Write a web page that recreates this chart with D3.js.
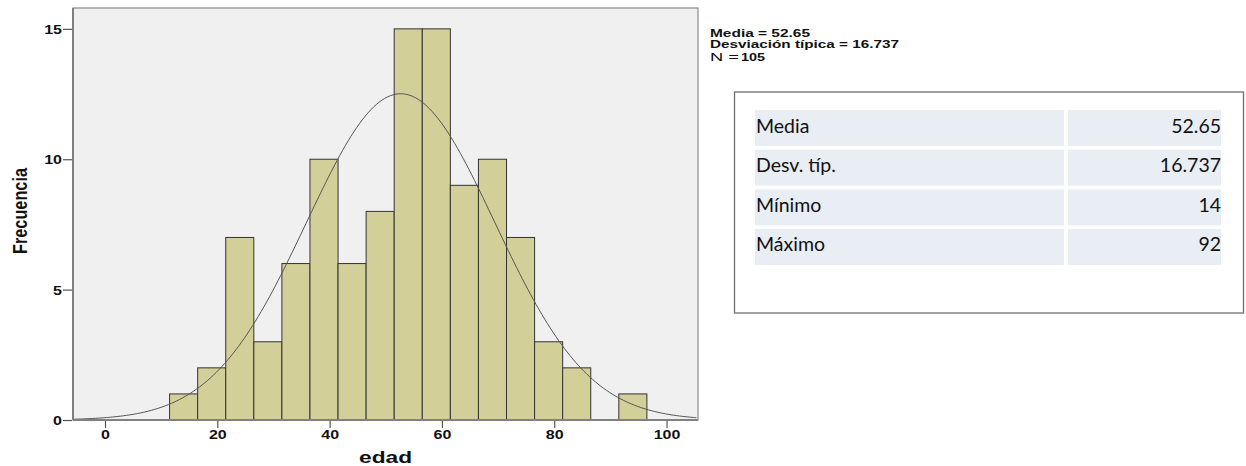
<!DOCTYPE html>
<html>
<head>
<meta charset="utf-8">
<script src="https://d3js.org/d3.v7.min.js"></script>
<style>
    body { margin: 0; background: #ffffff; }
    svg { display: block; }
</style>
</head>
<body>
<div id="chart"></div>
<script>
// histogram data (edad), bins of width 5 centered on these values
const binCenters = [14, 19, 24, 29, 34, 39, 44, 49, 54, 59, 64, 69, 74, 79, 84, 89, 94];
const counts = [1, 2, 7, 3, 6, 10, 6, 8, 15, 15, 9, 10, 7, 3, 2, 0, 1];
const binWidth = 5;

const xTicks = [0, 20, 40, 60, 80, 100];
const yTicks = [0, 5, 10, 15];

// summary values shown in the legend and in the table
const media = 52.65;
const desvTip = 16.737;
const nTotal = 105;
const statLabels = ["Media", "Desv. típ.", "Mínimo", "Máximo"];
const statValues = ["52.65", "16.737", "14", "92"];

const svg = d3.select("#chart")
    .append("svg")
    .attr("width", 1246)
    .attr("height", 466);

// plot area
const plot = {left: 73, right: 698, top: 8, bottom: 420};

const x = d3.scaleLinear().domain([-5.7, 105.6]).range([plot.left, plot.right]);
const y = d3.scaleLinear().domain([0, 15.8]).range([plot.bottom, plot.top]);

/**
 * stretch a text horizontally like the spss export does
 */
function stretch(sel, factor) {
    sel.each(function () {
        const w = this.getComputedTextLength();
        d3.select(this)
            .attr("textLength", w * factor)
            .attr("lengthAdjust", "spacingAndGlyphs");
    });
}

svg.append("rect")
    .attr("x", plot.left)
    .attr("y", plot.top)
    .attr("width", plot.right - plot.left)
    .attr("height", plot.bottom - plot.top)
    .attr("fill", "#f0f0f0")
    .attr("stroke", "#8a8a8a")
    .attr("stroke-width", 1.2);

// bars
svg.selectAll(".bar")
    .data(binCenters)
    .join("rect")
    .attr("class", "bar")
    .attr("x", function (d) { return x(d - binWidth / 2); })
    .attr("width", function (d) { return x(d + binWidth / 2) - x(d - binWidth / 2); })
    .attr("y", function (d, i) { return y(counts[i]); })
    .attr("height", function (d, i) { return y(0) - y(counts[i]); })
    .attr("fill", "#d3cf99")
    .attr("stroke", function (d, i) { return counts[i] > 0 ? "#333333" : "none"; })
    .attr("stroke-width", 1);

// fitted normal curve from mean and sd of the legend
const xs = d3.range(-5.7, 105.61, 0.5);
const curve = d3.line()
    .x(function (d) { return x(d); })
    .y(function (d) {
        const z = (d - media) / desvTip;
        return y(nTotal * binWidth * Math.exp(-0.5 * z * z) / (desvTip * Math.sqrt(2 * Math.PI)));
    })
    .curve(d3.curveBasis);

svg.append("path")
    .datum(xs)
    .attr("d", curve)
    .attr("fill", "none")
    .attr("stroke", "#555555")
    .attr("stroke-width", 1);

// axis lines
svg.append("line")
    .attr("x1", plot.left).attr("x2", plot.left)
    .attr("y1", plot.top).attr("y2", plot.bottom)
    .attr("stroke", "#808080").attr("stroke-width", 2);
svg.append("line")
    .attr("x1", plot.left).attr("x2", plot.right)
    .attr("y1", plot.bottom).attr("y2", plot.bottom)
    .attr("stroke", "#808080").attr("stroke-width", 2);

// axes
const yAxis = svg.append("g")
    .attr("transform", "translate(" + (plot.left - 1) + ",0)")
    .call(d3.axisLeft(y).tickValues(yTicks).tickSize(9).tickPadding(1).tickFormat(d3.format("d")));
const xAxis = svg.append("g")
    .attr("transform", "translate(0," + (plot.bottom + 1) + ")")
    .call(d3.axisBottom(x).tickValues(xTicks).tickSize(7).tickPadding(2).tickFormat(d3.format("d")));

[yAxis, xAxis].forEach(function (a) {
    a.select(".domain").remove();
    a.selectAll(".tick line").attr("stroke", "#555555").attr("stroke-width", 1.2);
    a.selectAll(".tick text")
        .attr("fill", "#111111")
        .attr("font-family", "Liberation Sans, Arial, sans-serif")
        .attr("font-weight", "bold")
        .attr("font-size", "12.5px")
        .call(stretch, 1.28);
});
yAxis.selectAll(".tick text").attr("dy", "0.36em");

// axis titles
svg.append("text")
    .attr("transform", "translate(27,211) rotate(-90)")
    .attr("text-anchor", "middle")
    .attr("font-family", "Liberation Sans, Arial, sans-serif")
    .attr("font-weight", "bold")
    .attr("font-size", "21px")
    .attr("textLength", 86)
    .attr("lengthAdjust", "spacingAndGlyphs")
    .attr("fill", "#111111")
    .text("Frecuencia");

svg.append("text")
    .attr("x", 385.5)
    .attr("y", 463)
    .attr("text-anchor", "middle")
    .attr("font-family", "Liberation Sans, Arial, sans-serif")
    .attr("font-weight", "bold")
    .attr("font-size", "16px")
    .attr("textLength", 53)
    .attr("lengthAdjust", "spacingAndGlyphs")
    .attr("fill", "#111111")
    .text("edad");

// legend next to the plot
const legendLines = [
    {text: "Media = " + media, y: 37.3, len: 100, weight: "bold"},
    {text: "Desviación típica = " + desvTip, y: 48, len: 189, weight: "bold"}
];
svg.selectAll(".legend")
    .data(legendLines)
    .join("text")
    .attr("class", "legend")
    .attr("x", 710)
    .attr("y", function (d) { return d.y; })
    .attr("font-family", "Liberation Sans, Arial, sans-serif")
    .attr("font-weight", function (d) { return d.weight; })
    .attr("font-size", "10.5px")
    .attr("textLength", function (d) { return d.len; })
    .attr("lengthAdjust", "spacingAndGlyphs")
    .attr("fill", "#111111")
    .text(function (d) { return d.text; });

svg.append("text")
    .attr("x", 710).attr("y", 60.5)
    .attr("font-family", "Liberation Sans, Arial, sans-serif")
    .attr("font-size", "10.5px")
    .attr("textLength", 29).attr("lengthAdjust", "spacingAndGlyphs")
    .attr("fill", "#111111")
    .text("N =");
svg.append("text")
    .attr("x", 741).attr("y", 60.5)
    .attr("font-family", "Liberation Sans, Arial, sans-serif")
    .attr("font-weight", "bold")
    .attr("font-size", "10.5px")
    .attr("textLength", 24).attr("lengthAdjust", "spacingAndGlyphs")
    .attr("fill", "#111111")
    .text(nTotal);

// statistics table
svg.append("rect")
    .attr("x", 734.5)
    .attr("y", 92)
    .attr("width", 509)
    .attr("height", 221)
    .attr("fill", "#ffffff")
    .attr("stroke", "#6e6e6e")
    .attr("stroke-width", 1.3);

const rows = d3.scaleBand()
    .domain(statLabels)
    .range([110, 265])
    .paddingInner(0.09);

const row = svg.selectAll(".row")
    .data(statLabels)
    .join("g")
    .attr("class", "row")
    .attr("transform", function (d) { return "translate(0," + rows(d) + ")"; });

row.append("rect")
    .attr("x", 755).attr("width", 309)
    .attr("height", rows.bandwidth())
    .attr("fill", "#e9edf4");
row.append("rect")
    .attr("x", 1068).attr("width", 153)
    .attr("height", rows.bandwidth())
    .attr("fill", "#e9edf4");

row.append("text")
    .attr("x", 756)
    .attr("y", 22.5)
    .attr("font-family", "Lato, Open Sans, sans-serif")
    .attr("font-size", "19.5px")
    .attr("fill", "#111111")
    .text(function (d) { return d; });

row.append("text")
    .attr("x", 1221)
    .attr("y", 22.5)
    .attr("text-anchor", "end")
    .attr("font-family", "Lato, Open Sans, sans-serif")
    .attr("font-size", "19.5px")
    .attr("fill", "#111111")
    .text(function (d, i) { return statValues[i]; });
</script>
</body>
</html>
